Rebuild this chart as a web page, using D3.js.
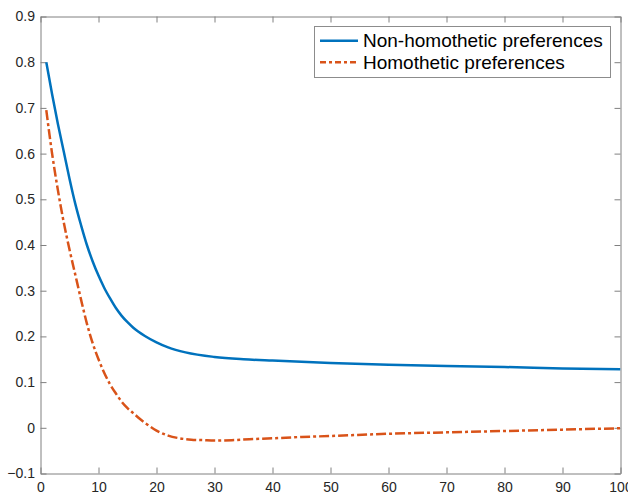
<!DOCTYPE html>
<html>
<head>
<meta charset="utf-8">
<script src="https://cdn.jsdelivr.net/npm/d3@7"></script>
<style>
    body { margin: 0; background: #fff; }
    svg { display: block; }
    .tick text { font-family: "Liberation Sans", Arial, Helvetica, sans-serif; font-size: 14px; fill: #262626; }
    .legend text { font-family: "Liberation Sans", Arial, Helvetica, sans-serif; font-size: 19px; fill: #000; }
</style>
</head>
<body>
<script>
// data
const xNonHomo = [1, 2, 3, 4, 5, 6, 7, 8, 9, 10, 11, 12, 13, 14, 15, 16, 18, 20, 22, 25, 30, 35, 40, 50, 60, 70, 80, 90, 100]
const yNonHomo = [0.80, 0.73, 0.665, 0.605, 0.545, 0.49, 0.443, 0.40, 0.364, 0.333, 0.306, 0.283, 0.262, 0.245, 0.231, 0.219, 0.201, 0.187, 0.176, 0.165, 0.155, 0.150, 0.147, 0.142, 0.138, 0.135, 0.133, 0.130, 0.128]

const xHomo = [1, 2, 3, 4, 5, 6, 7, 8, 9, 10, 11, 12, 13, 14, 15, 16, 17, 18, 20, 22, 24, 26, 28, 30, 33, 36, 40, 45, 50, 60, 70, 80, 90, 100]
const yHomo = [0.695, 0.60, 0.52, 0.45, 0.39, 0.335, 0.28, 0.228, 0.185, 0.15, 0.12, 0.095, 0.075, 0.057, 0.043, 0.032, 0.021, 0.011, -0.006, -0.017, -0.023, -0.026, -0.027, -0.028, -0.027, -0.025, -0.023, -0.020, -0.018, -0.013, -0.010, -0.007, -0.004, -0.001]

const xTicks = [0, 10, 20, 30, 40, 50, 60, 70, 80, 90, 100]
const yTicks = [-0.1, 0, 0.1, 0.2, 0.3, 0.4, 0.5, 0.6, 0.7, 0.8, 0.9]
const seriesNames = ["Non-homothetic preferences", "Homothetic preferences"]

const width = 628
const height = 494
const padLeft = 40.5, padRight = 620.5, padTop = 16.5, padBottom = 473.5
const tickLen = 6

const sx = d3.scaleLinear().domain([0, 100]).range([padLeft, padRight])
const sy = d3.scaleLinear().domain([-0.1, 0.9]).range([padBottom, padTop])

const svg = d3.select("body")
    .append("svg")
    .attr("width", width)
    .attr("height", height)

const fmt = d => d === 0 ? "0" : d3.format(".1f")(d)

// axes, ticks inward, box on
const axB = svg.append("g").attr("transform", `translate(0,${padBottom})`)
    .call(d3.axisBottom(sx).tickValues(xTicks).tickSizeInner(-tickLen).tickSizeOuter(0).tickPadding(9).tickFormat(d3.format("d")))
const axT = svg.append("g").attr("transform", `translate(0,${padTop})`)
    .call(d3.axisTop(sx).tickValues(xTicks).tickSizeInner(-tickLen).tickSizeOuter(0).tickFormat(""))
const axL = svg.append("g").attr("transform", `translate(${padLeft},0)`)
    .call(d3.axisLeft(sy).tickValues(yTicks).tickSizeInner(-tickLen).tickSizeOuter(0).tickPadding(5.5).tickFormat(fmt))
const axR = svg.append("g").attr("transform", `translate(${padRight},0)`)
    .call(d3.axisRight(sy).tickValues(yTicks).tickSizeInner(-tickLen).tickSizeOuter(0).tickFormat(""))

for (const ax of [axB, axT, axL, axR]) {
    ax.select(".domain").attr("stroke", "#808080")
    ax.selectAll(".tick line").attr("stroke", "#808080")
}

svg.append("clipPath").attr("id", "plotclip")
    .append("rect").attr("x", padLeft).attr("y", padTop).attr("width", padRight - padLeft).attr("height", padBottom - padTop)

const line = d3.line()
    .x(d => sx(d[0]))
    .y(d => sy(d[1]))
    .curve(d3.curveMonotoneX)

const plot = svg.append("g").attr("clip-path", "url(#plotclip)")

plot.append("path")
    .datum(xNonHomo.map((x, i) => [x, yNonHomo[i]]))
    .attr("d", line)
    .attr("fill", "none")
    .attr("stroke", "#0072BD")
    .attr("stroke-width", 2.5)

plot.append("path")
    .datum(xHomo.map((x, i) => [x, yHomo[i]]))
    .attr("d", line)
    .attr("fill", "none")
    .attr("stroke", "#D95319")
    .attr("stroke-width", 2.5)
    .attr("stroke-dasharray", "10,3,3,3")

// legend
const legend = svg.append("g").attr("class", "legend")
legend.append("rect")
    .attr("x", 314.5).attr("y", 26.5).attr("width", 296).attr("height", 51)
    .attr("fill", "#fff").attr("stroke", "#8c8c8c").attr("stroke-width", 1)

const legendStyles = [
    { color: "#0072BD", dash: null },
    { color: "#D95319", dash: "6,3,3,3" }
]
seriesNames.forEach((name, i) => {
    const y = 40.7 + i * 21.6
    legend.append("line")
        .attr("x1", 320).attr("x2", 358).attr("y1", y).attr("y2", y)
        .attr("stroke", legendStyles[i].color).attr("stroke-width", 2.5)
        .attr("stroke-dasharray", legendStyles[i].dash)
    legend.append("text")
        .attr("x", 363).attr("y", y).attr("dy", "0.35em")
        .text(name)
})
</script>
</body>
</html>
